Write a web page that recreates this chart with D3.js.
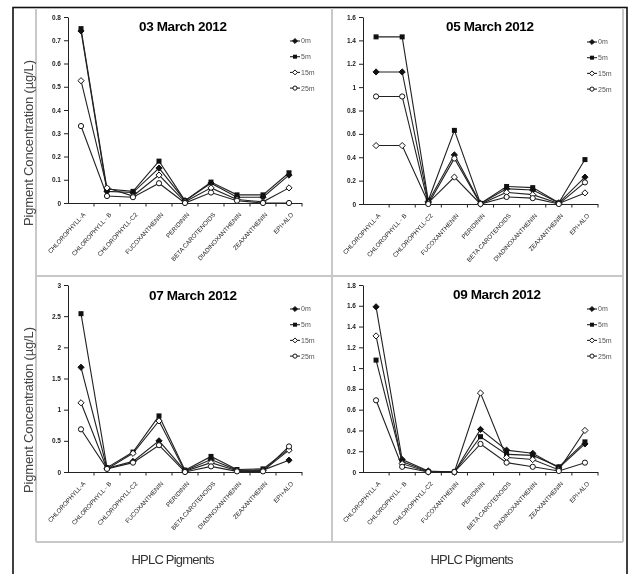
<!DOCTYPE html>
<html>
<head>
<meta charset="utf-8">
<script src="https://cdn.jsdelivr.net/npm/d3@7"></script>
<style>
  body { margin: 0; background: #fff; }
  svg { display: block; font-family: "Liberation Sans", Arial, sans-serif; will-change: transform; -webkit-font-smoothing: antialiased; }
  .axis path, .axis line { stroke: #222; stroke-width: 1; }
  .axis text { fill: #222; }
</style>
</head>
<body>
<svg width="630" height="574"></svg>
<script>
// pigments on the x axis
var pigments = ["CHLOROPHYLL-A", "CHLOROPHYLL - B", "CHLOROPHYLL-C2", "FUCOXANTHENIN", "PERIDININ",
	"BETA CAROTENOIDS", "DIADINOXANTHENIN", "ZEAXANTHENIN", "EPI+ALO"];
var depths = ["0m", "5m", "15m", "25m"];
var titles = ["03 March 2012", "05 March 2012", "07 March 2012", "09 March 2012"];

// one row per depth (0m, 5m, 15m, 25m), one value per pigment
var mar03 = [
	[0.74, 0.05, 0.045, 0.15, 0.01, 0.085, 0.025, 0.025, 0.12],
	[0.75, 0.06, 0.05, 0.18, 0.01, 0.09, 0.035, 0.035, 0.13],
	[0.526, 0.065, 0.03, 0.12, 0.005, 0.065, 0.015, 0.005, 0.065],
	[0.331, 0.03, 0.025, 0.085, 0, 0.045, 0.01, 0, 0]
];
var mar05 = [
	[1.13, 1.13, 0.02, 0.42, 0.005, 0.13, 0.12, 0.01, 0.23],
	[1.43, 1.43, 0.03, 0.63, 0.005, 0.15, 0.14, 0.01, 0.38],
	[0.5, 0.5, 0.01, 0.23, 0, 0.1, 0.08, 0.005, 0.095],
	[0.92, 0.92, 0, 0.39, 0, 0.06, 0.05, 0, 0.185]
];
var mar07 = [
	[1.68, 0.06, 0.17, 0.5, 0.02, 0.2, 0.03, 0.03, 0.19],
	[2.54, 0.07, 0.32, 0.9, 0.03, 0.25, 0.04, 0.05, 0.37],
	[1.11, 0.05, 0.3, 0.82, 0.01, 0.15, 0.02, 0.02, 0.35],
	[0.685, 0.05, 0.15, 0.43, 0, 0.09, 0.01, 0.01, 0.41]
];
var mar09 = [
	[1.59, 0.12, 0.01, 0, 0.41, 0.21, 0.18, 0.04, 0.27],
	[1.077, 0.1, 0.005, 0, 0.34, 0.17, 0.16, 0.05, 0.29],
	[1.31, 0.08, 0, 0, 0.76, 0.14, 0.12, 0.02, 0.4],
	[0.69, 0.05, 0, 0, 0.27, 0.09, 0.05, 0.01, 0.09]
];

var ticks03 = [0, 0.1, 0.2, 0.3, 0.4, 0.5, 0.6, 0.7, 0.8];
var ticks05 = [0, 0.2, 0.4, 0.6, 0.8, 1, 1.2, 1.4, 1.6];
var ticks07 = [0, 0.5, 1, 1.5, 2, 2.5, 3];
var ticks09 = [0, 0.2, 0.4, 0.6, 0.8, 1, 1.2, 1.4, 1.6, 1.8];

var panelData = [mar03, mar05, mar07, mar09];
var panelTicks = [ticks03, ticks05, ticks07, ticks09];

var svg = d3.select("svg");

// frame and gray panel grid
svg.append("rect").attr("x", 13).attr("y", 7.5).attr("width", 614).attr("height", 600)
	.attr("fill", "none").attr("stroke", "#111").attr("stroke-width", 1.6);

var grid = svg.append("g").attr("stroke", "#c8c8c8").attr("stroke-width", 2);
grid.append("line").attr("x1", 36).attr("x2", 36).attr("y1", 8).attr("y2", 542);
grid.append("line").attr("x1", 332).attr("x2", 332).attr("y1", 8).attr("y2", 542);
grid.append("line").attr("x1", 623).attr("x2", 623).attr("y1", 8).attr("y2", 542);
grid.append("line").attr("x1", 36).attr("x2", 623).attr("y1", 276).attr("y2", 276);
grid.append("line").attr("x1", 36).attr("x2", 623).attr("y1", 542).attr("y2", 542);

// y title on the left, x titles at the bottom
[143, 410].forEach(function (cy) {
	svg.append("text")
		.attr("transform", "translate(33," + cy + ") rotate(-90)")
		.attr("text-anchor", "middle")
		.attr("font-size", 13)
		.attr("fill", "#444")
		.attr("textLength", 166)
		.text("Pigment Concentration (\u00b5g/L)");
});
[173, 472].forEach(function (cx) {
	svg.append("text")
		.attr("x", cx).attr("y", 564)
		.attr("text-anchor", "middle")
		.attr("font-size", 13)
		.attr("fill", "#333")
		.attr("textLength", 83)
		.text("HPLC Pigments");
});

var layout = [
	{ x0: 68, x1: 302, top: 17, bottom: 203, title: [183, 31], legend: [290, 41] },
	{ x0: 363, x1: 598, top: 17, bottom: 204, title: [490, 31], legend: [587, 42] },
	{ x0: 68, x1: 302, top: 285, bottom: 472, title: [193, 300], legend: [290, 309] },
	{ x0: 363, x1: 598, top: 285, bottom: 472, title: [497, 299], legend: [587, 309] }
];

function drawMarker(g, k, cx, cy, s) {
	var d = 3.1 * s, h = 2.5 * s, r = 2.6 * s;
	if (k == 0 || k == 2) {
		g.append("path")
			.attr("d", "M" + cx + "," + (cy - d) + "L" + (cx + d) + "," + cy + "L" + cx + "," + (cy + d) + "L" + (cx - d) + "," + cy + "Z")
			.attr("fill", k == 0 ? "#111" : "#fff").attr("stroke", "#111").attr("stroke-width", 1);
	} else if (k == 1) {
		g.append("rect").attr("x", cx - h).attr("y", cy - h).attr("width", 2 * h).attr("height", 2 * h)
			.attr("fill", "#111");
	} else {
		g.append("circle").attr("cx", cx).attr("cy", cy).attr("r", r)
			.attr("fill", "#fff").attr("stroke", "#111").attr("stroke-width", 1);
	}
}

layout.forEach(function (L, p) {
	var g = svg.append("g");
	var tks = panelTicks[p];

	var x = d3.scalePoint().domain(pigments).range([L.x0, L.x1]).padding(0.5);
	var xb = d3.scaleBand().domain(pigments).range([L.x0, L.x1]);
	var y = d3.scaleLinear().domain([0, tks[tks.length - 1]]).range([L.bottom, L.top]);

	var yAxis = g.append("g").attr("class", "axis")
		.attr("transform", "translate(" + L.x0 + ",0)")
		.call(d3.axisLeft(y).tickValues(tks).tickSize(4).tickSizeOuter(0).tickFormat(d3.format("~g")));
	yAxis.selectAll("text").attr("font-size", 6.5).attr("font-weight", "bold").attr("fill", "#333");

	var xAxis = g.append("g").attr("class", "axis")
		.attr("transform", "translate(0," + L.bottom + ")")
		.call(d3.axisBottom(x).tickSize(0).tickSizeOuter(0));
	xAxis.select(".domain").attr("d", "M" + L.x0 + ",0.5H" + L.x1);
	xAxis.selectAll("text")
		.attr("font-size", 6.2)
		.attr("fill", "#333")
		.attr("text-anchor", "end")
		.attr("dy", 0)
		.attr("transform", "translate(2,10) rotate(-48)");
	xAxis.selectAll(".bound")
		.data(pigments.slice(1).concat(["end"]))
		.enter().append("line")
		.attr("class", "bound")
		.attr("x1", function (d) { return d == "end" ? L.x1 : xb(d); })
		.attr("x2", function (d) { return d == "end" ? L.x1 : xb(d); })
		.attr("y1", 0).attr("y2", 3.5);

	var line = d3.line()
		.x(function (d, i) { return x(pigments[i]); })
		.y(function (d) { return y(d); });

	panelData[p].forEach(function (vals, k) {
		g.append("path").datum(vals)
			.attr("d", line)
			.attr("fill", "none").attr("stroke", "#222").attr("stroke-width", 1.1);
	});
	panelData[p].forEach(function (vals, k) {
		vals.forEach(function (v, i) { drawMarker(g, k, x(pigments[i]), y(v), 1); });
	});

	g.append("text")
		.attr("x", L.title[0]).attr("y", L.title[1])
		.attr("text-anchor", "middle")
		.attr("font-size", 13.5).attr("font-weight", "bold")
		.attr("textLength", 88)
		.text(titles[p]);

	var leg = g.append("g").selectAll("g").data(depths).enter().append("g")
		.attr("transform", function (d, i) { return "translate(" + L.legend[0] + "," + (L.legend[1] + i * 15.7) + ")"; });
	leg.append("line").attr("x1", 0).attr("x2", 10).attr("stroke", "#222").attr("stroke-width", 1.1);
	leg.each(function (d, k) { drawMarker(d3.select(this), k, 5, 0, 0.8); });
	leg.append("text").attr("x", 11).attr("dy", "0.35em")
		.attr("font-size", 7).attr("fill", "#555").text(function (d) { return d; });
});
</script>
</body>
</html>
